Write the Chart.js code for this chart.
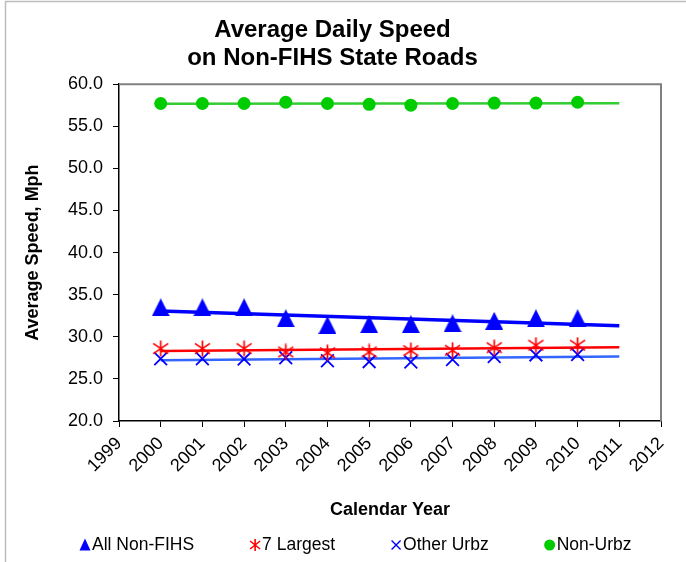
<!DOCTYPE html>
<html>
<head>
<meta charset="utf-8">
<script src="https://cdn.jsdelivr.net/npm/chart.js@4/dist/chart.umd.min.js"></script>
<style>
  html, body { margin: 0; padding: 0; background: #fff; }
  #wrap { width: 686px; height: 562px; }
</style>
</head>
<body>
<div id="wrap"><canvas id="c" width="686" height="562"></canvas></div>
<script>
// ---- data ----
const years = [2000, 2001, 2002, 2003, 2004, 2005, 2006, 2007, 2008, 2009, 2010];
const allNonFIHS = [33.5, 33.5, 33.5, 32.2, 31.4, 31.5, 31.5, 31.6, 31.9, 32.2, 32.2];
const sevenLargest = [28.6, 28.6, 28.6, 28.2, 28.1, 28.2, 28.35, 28.4, 28.7, 29.0, 29.0];
const otherUrbz = [27.4, 27.4, 27.35, 27.5, 27.15, 27.05, 27.0, 27.3, 27.65, 27.85, 27.9];
const nonUrbz = [57.7, 57.7, 57.7, 57.85, 57.7, 57.6, 57.5, 57.7, 57.75, 57.75, 57.85];
const seriesNames = ['All Non-FIHS', '7 Largest', 'Other Urbz', 'Non-Urbz'];
const xMin = 1999, xMax = 2012, trendEnd = 2011;
const yMin = 20, yMax = 60, yStep = 5;
const titleLines = ['Average Daily Speed', 'on Non-FIHS State Roads'];

// linear least-squares trend (as the spreadsheet trendline), forecast to trendEnd
function trend(xs, ys) {
  const n = xs.length;
  const mx = xs.reduce((a, b) => a + b, 0) / n;
  const my = ys.reduce((a, b) => a + b, 0) / n;
  let sxy = 0, sxx = 0;
  for (let i = 0; i < n; i++) { sxy += (xs[i] - mx) * (ys[i] - my); sxx += (xs[i] - mx) ** 2; }
  const b = sxy / sxx, a = my - b * mx;
  return [{x: xs[0], y: a + b * xs[0]}, {x: trendEnd, y: a + b * trendEnd}];
}
const pts = ys => years.map((x, i) => ({x, y: ys[i]}));

// ---- marker images ----
function triImg(w, h, color) {
  const c = document.createElement('canvas'); c.width = w; c.height = h;
  const g = c.getContext('2d'); g.fillStyle = color;
  g.beginPath(); g.moveTo(w / 2, 0); g.lineTo(w, h); g.lineTo(0, h); g.closePath(); g.fill();
  return c;
}
function astImg(w, h, color, lw) {
  const c = document.createElement('canvas'); c.width = w; c.height = h;
  const g = c.getContext('2d'); g.strokeStyle = color; g.lineWidth = lw;
  g.beginPath();
  g.moveTo(w / 2, 0.5); g.lineTo(w / 2, h - 0.5);
  g.moveTo(1, h * 0.2); g.lineTo(w - 1, h * 0.8);
  g.moveTo(w - 1, h * 0.2); g.lineTo(1, h * 0.8);
  g.stroke();
  return c;
}
const triMarker = triImg(18, 18, '#0000ff');
const astMarker = astImg(17, 17, '#ff0000', 1.7);

Chart.defaults.font.family = "'Liberation Sans', Arial, sans-serif";
Chart.defaults.color = '#000';

const framePlugin = {
  id: 'frame',
  beforeDraw(chart) {
    const ctx = chart.ctx;
    ctx.save();
    ctx.fillStyle = '#fff';
    ctx.fillRect(0, 0, chart.width, chart.height);
    ctx.strokeStyle = '#bdbdbd';
    ctx.lineWidth = 1.5;
    ctx.beginPath();
    ctx.moveTo(5.5, chart.height); ctx.lineTo(5.5, 1.5); ctx.lineTo(chart.width, 1.5);
    ctx.stroke();
    ctx.restore();
  },
  beforeDatasetsDraw(chart) {
    const {ctx, chartArea: a} = chart;
    ctx.save();
    ctx.strokeStyle = '#808080';
    ctx.lineWidth = 2;
    ctx.beginPath();
    ctx.moveTo(a.left, a.top); ctx.lineTo(a.right, a.top); ctx.lineTo(a.right, a.bottom);
    ctx.stroke();
    ctx.restore();
  },
  afterDraw(chart) {
    // legend
    const ctx = chart.ctx;
    ctx.save();
    ctx.font = "17.5px 'Liberation Sans', Arial, sans-serif";
    ctx.fillStyle = '#000';
    ctx.textBaseline = 'middle';
    ctx.textAlign = 'left';
    const yc = 545;
    let x = 80;
    seriesNames.forEach((name, i) => {
      const cx = x + 5;
      ctx.save();
      if (i === 0) {
        ctx.fillStyle = '#0000ff';
        ctx.beginPath(); ctx.moveTo(cx, yc - 6.5); ctx.lineTo(cx + 5.5, yc + 5.5); ctx.lineTo(cx - 5.5, yc + 5.5); ctx.closePath(); ctx.fill();
      } else if (i === 1) {
        ctx.strokeStyle = '#ff0000'; ctx.lineWidth = 1.6;
        ctx.beginPath();
        ctx.moveTo(cx, yc - 6); ctx.lineTo(cx, yc + 6);
        ctx.moveTo(cx - 5, yc - 4); ctx.lineTo(cx + 5, yc + 4);
        ctx.moveTo(cx + 5, yc - 4); ctx.lineTo(cx - 5, yc + 4);
        ctx.stroke();
      } else if (i === 2) {
        ctx.strokeStyle = '#0000ff'; ctx.lineWidth = 1.4;
        ctx.beginPath();
        ctx.moveTo(cx - 4.5, yc - 4.5); ctx.lineTo(cx + 4.5, yc + 4.5);
        ctx.moveTo(cx + 4.5, yc - 4.5); ctx.lineTo(cx - 4.5, yc + 4.5);
        ctx.stroke();
      } else {
        ctx.fillStyle = '#00cc00';
        ctx.beginPath(); ctx.arc(cx, yc, 5.5, 0, Math.PI * 2); ctx.fill();
      }
      ctx.restore();
      const tx = x + 12;
      ctx.fillText(name, tx, yc);
      x = tx + ctx.measureText(name).width + 56;
    });
    ctx.restore();
  }
};

new Chart(document.getElementById('c'), {
  type: 'scatter',
  data: {
    datasets: [
      { label: seriesNames[0], data: pts(allNonFIHS), pointStyle: triMarker, pointRadius: 9, order: 0 },
      { label: seriesNames[1], data: pts(sevenLargest), pointStyle: astMarker, pointRadius: 8, order: 0 },
      { label: seriesNames[2], data: pts(otherUrbz), pointStyle: 'crossRot', pointRadius: 9,
        borderColor: '#0000ff', backgroundColor: '#0000ff', pointBorderWidth: 1.8, order: 0 },
      { label: seriesNames[3], data: pts(nonUrbz), pointStyle: 'circle', pointRadius: 6.5,
        backgroundColor: '#00cc00', borderColor: '#00cc00', pointBorderWidth: 0, order: 0 },
      { label: 'trend1', data: trend(years, allNonFIHS), showLine: true, pointRadius: 0,
        borderColor: '#0000ff', borderWidth: 3.5, order: 1 },
      { label: 'trend2', data: trend(years, sevenLargest), showLine: true, pointRadius: 0,
        borderColor: '#ff0000', borderWidth: 2.5, order: 1 },
      { label: 'trend3', data: trend(years, otherUrbz), showLine: true, pointRadius: 0,
        borderColor: '#3366ff', borderWidth: 2.5, order: 1 },
      { label: 'trend4', data: trend(years, nonUrbz), showLine: true, pointRadius: 0,
        borderColor: '#33cc33', borderWidth: 2.5, order: 1 }
    ]
  },
  options: {
    responsive: false,
    animation: false,
    layout: { padding: { top: 0, left: 4, right: 25, bottom: 34 } },
    plugins: {
      legend: { display: false },
      tooltip: { enabled: false },
      title: {
        display: true,
        text: titleLines,
        font: { size: 24, weight: 'bold', lineHeight: 1.17 },
        color: '#000',
        padding: { top: 16, bottom: 12 }
      }
    },
    scales: {
      x: {
        type: 'linear',
        min: xMin, max: xMax,
        afterFit(s) { s.height = 107; },
        ticks: {
          stepSize: 1, autoSkip: false, maxRotation: 45, minRotation: 45,
          font: { size: 18 }, color: '#000', padding: 6,
          callback: v => String(v)
        },
        grid: { drawOnChartArea: false, drawTicks: true, tickLength: 6, color: '#000', tickColor: '#000' },
        border: { display: true, color: '#000', width: 1.5 },
        title: { display: true, text: 'Calendar Year', font: { size: 18, weight: 'bold' }, color: '#000',
                 padding: { top: 4, bottom: 7 } }
      },
      y: {
        min: yMin, max: yMax,
        afterFit(s) { s.width = 115; },
        ticks: { stepSize: yStep, font: { size: 18 }, color: '#000', padding: 10,
                 callback: v => v.toFixed(1) },
        grid: { drawOnChartArea: false, drawTicks: true, tickLength: 6, color: '#000', tickColor: '#000' },
        border: { display: true, color: '#000', width: 1.5 },
        title: { display: true, text: 'Average Speed, Mph', font: { size: 18, weight: 'bold' }, color: '#000',
                 padding: { top: 18, bottom: 0 } }
      }
    }
  },
  plugins: [framePlugin]
});
</script>
</body>
</html>
